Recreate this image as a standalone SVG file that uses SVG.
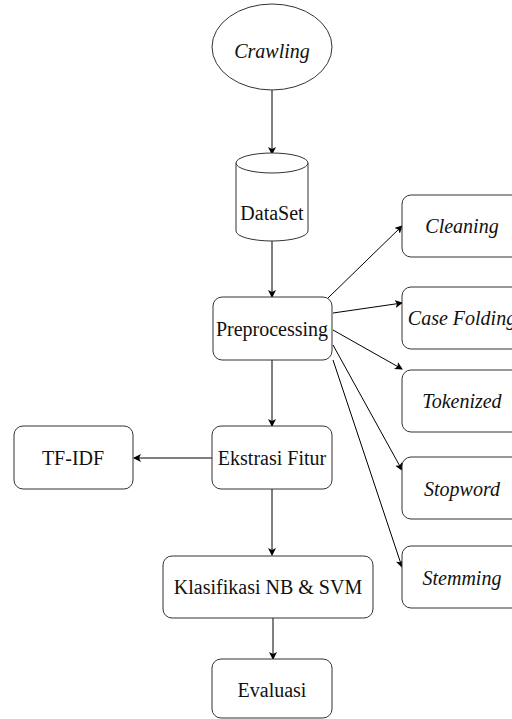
<svg xmlns="http://www.w3.org/2000/svg" width="512" height="719" viewBox="0 0 512 719">
<defs>
<marker id="ah" markerWidth="8" markerHeight="8" refX="7" refY="4" orient="auto" markerUnits="userSpaceOnUse">
<path d="M0,0 L8,4 L0,8 L2,4 Z" fill="#000"/>
</marker>
<style>
.n{fill:#fff;stroke:#333;stroke-width:1}
.t{font-family:"Liberation Serif","Times New Roman","DejaVu Serif",serif;font-size:20px;fill:#111;text-anchor:middle}
.i{font-style:italic}
.c{stroke:#000;stroke-width:1;fill:none;marker-end:url(#ah)}
</style>
</defs>
<rect width="512" height="719" fill="#fff"/>
<g id="connectors">
<line class="c" x1="272" y1="90" x2="272" y2="154"/>
<line class="c" x1="272" y1="241" x2="272" y2="297"/>
<line class="c" x1="328" y1="298" x2="402" y2="226"/>
<line class="c" x1="333" y1="313" x2="402" y2="303"/>
<line class="c" x1="333" y1="330" x2="402" y2="369"/>
<line class="c" x1="333" y1="345" x2="402" y2="470"/>
<line class="c" x1="333" y1="360" x2="402" y2="567"/>
<line class="c" x1="272" y1="360" x2="272" y2="426"/>
<line class="c" x1="212" y1="458" x2="134" y2="458"/>
<line class="c" x1="272" y1="489" x2="272" y2="555"/>
<line class="c" x1="273" y1="618" x2="273" y2="659"/>
</g>
<g id="crawling"><ellipse class="n" cx="272" cy="47" rx="60" ry="43"/><text class="t i" x="272" y="58">Crawling</text></g>
<g id="dataset"><path class="n" d="M236,163 A36,10 0 0 1 308,163 L308,231 A36,10 0 0 1 236,231 Z"/><path class="n" d="M236,163 A36,10 0 0 0 308,163" fill="none"/><text class="t" x="272" y="220">DataSet</text></g>
<g id="preprocessing"><rect class="n" x="213" y="297" width="119" height="63" rx="9"/><text class="t" x="272" y="336">Preprocessing</text></g>
<g id="cleaning"><rect class="n" x="402" y="195" width="120" height="62" rx="9"/><text class="t i" x="462" y="233">Cleaning</text></g>
<g id="casefolding"><rect class="n" x="402" y="287" width="120" height="62" rx="9"/><text class="t i" x="462" y="325">Case Folding</text></g>
<g id="tokenized"><rect class="n" x="402" y="370" width="120" height="62" rx="9"/><text class="t i" x="462" y="408">Tokenized</text></g>
<g id="stopword"><rect class="n" x="402" y="457" width="120" height="62" rx="9"/><text class="t i" x="462" y="496">Stopword</text></g>
<g id="stemming"><rect class="n" x="402" y="546" width="120" height="62" rx="9"/><text class="t i" x="462" y="585">Stemming</text></g>
<g id="ekstrasi"><rect class="n" x="212" y="426" width="120" height="63" rx="9"/><text class="t" x="272" y="465">Ekstrasi Fitur</text></g>
<g id="tfidf"><rect class="n" x="14" y="426" width="119" height="63" rx="9"/><text class="t" x="73" y="465">TF-IDF</text></g>
<g id="klasifikasi"><rect class="n" x="163" y="556" width="210" height="62" rx="9"/><text class="t" x="268" y="594">Klasifikasi NB &amp; SVM</text></g>
<g id="evaluasi"><rect class="n" x="212" y="659" width="120" height="59" rx="9"/><text class="t" x="272" y="697">Evaluasi</text></g>
</svg>
